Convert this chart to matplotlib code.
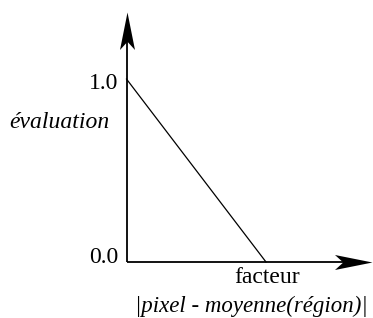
import matplotlib.pyplot as plt
from matplotlib.path import Path
from matplotlib.transforms import Affine2D

# valeurs
facteur = [0.0, 1.0]
evaluation = [1.0, 0.0]
yticks = [0.0, 1.0]
ytick_labels = ["0.0", "1.0"]

plt.rcParams['font.family'] = ['Liberation Serif', 'DejaVu Serif']

fig = plt.figure(figsize=(3.73, 3.18), dpi=100)
ax = fig.add_axes([0, 0, 1, 1])
ax.set_xlim(-0.907, 1.767)
ax.set_ylim(-0.306, 1.432)
ax.axis('off')

# pointe de flèche (type stealth), pointe à l'origine
head = Path([(0, 0), (-1, 0.2), (-0.78, 0), (-1, -0.2), (0, 0)],
            [Path.MOVETO, Path.LINETO, Path.LINETO, Path.LINETO, Path.CLOSEPOLY])
head_up = head.transformed(Affine2D().rotate_deg(90))

x_tip, y_tip = 1.757, 1.368
ax.plot([0, x_tip - 0.12], [0, 0], color='black', lw=1.3, solid_capstyle='butt')
ax.plot([0, 0], [0, y_tip - 0.09], color='black', lw=1.3, solid_capstyle='butt')
ax.plot([x_tip], [0], marker=head, markersize=54, color='black', mew=0)
ax.plot([0], [y_tip], marker=head_up, markersize=54, color='black', mew=0)

ax.plot(facteur, evaluation, color='black', lw=0.9)

ax.text(-0.061, 0.975, ytick_labels[1], ha='right', va='center', fontsize=17)
ax.text(-0.061, 0.022, ytick_labels[0], ha='right', va='center', fontsize=17)

ax.text(-0.484, 0.765, "évaluation", style='italic', ha='center', va='center', fontsize=17)
ax.text(1.004, -0.087, "facteur", ha='center', va='center', fontsize=17)
ax.text(0.892, -0.24, "|pixel - moyenne(région)|", style='italic',
        ha='center', va='center', fontsize=16.5)

fig.savefig("out.png", dpi=100)
